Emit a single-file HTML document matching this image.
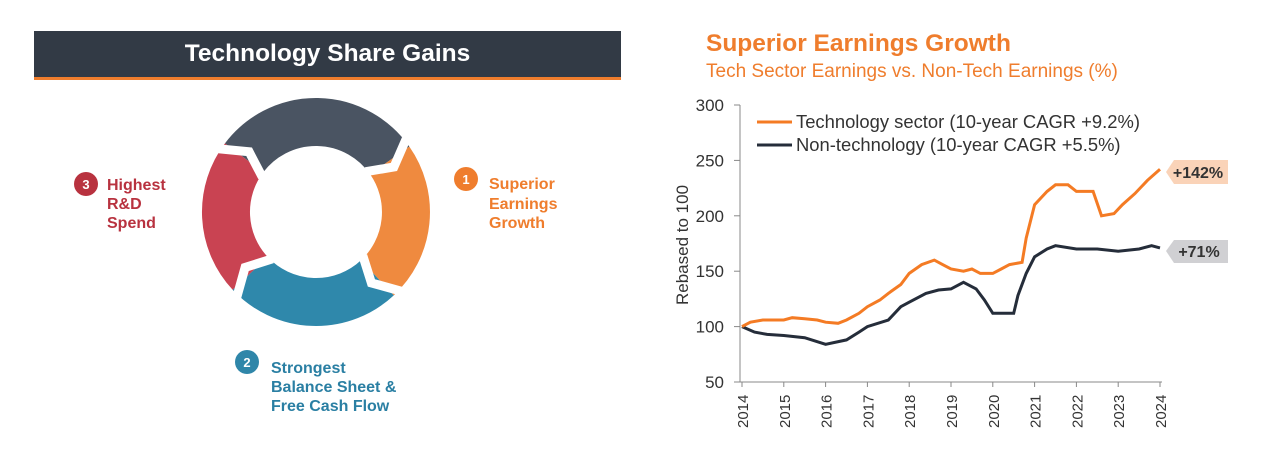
<!DOCTYPE html>
<html><head><meta charset="utf-8"><style>
body{margin:0;width:1281px;height:454px;background:#fff;font-family:"Liberation Sans",sans-serif;position:relative;overflow:hidden}
.a{position:absolute}
</style></head><body>
<div class="a" style="left:34px;top:31px;width:587px;height:46px;background:#323a45;color:#fff;font-size:24.5px;font-weight:bold;text-align:center;line-height:46px">Technology Share Gains</div>
<div class="a" style="left:34px;top:77px;width:587px;height:3px;background:#ef7d2d"></div>
<svg class="a" id="r" style="left:0;top:0" width="640" height="454" font-family="Liberation Sans, sans-serif"></svg>
<div class="a" style="left:706px;top:30px;color:#ef7d2d;font-size:24.5px;font-weight:bold">Superior Earnings Growth</div>
<div class="a" style="left:706px;top:61px;color:#ef7d2d;font-size:19px">Tech Sector Earnings vs. Non-Tech Earnings (%)</div>
<svg class="a" id="c" style="left:0;top:0" width="1281" height="454" font-family="Liberation Sans, sans-serif"></svg>
<script>
const cx=316,cy=212,R=90,W=48;
const pt=(a,r)=>[(cx+r*Math.cos(a*Math.PI/180)).toFixed(1),(cy+r*Math.sin(a*Math.PI/180)).toFixed(1)];
const arc=(a0,a1,col)=>{const p0=pt(a0,R),p1=pt(a1,R);const large=((a1-a0+360)%360)>180?1:0;return `<path d="M${p0} A${R},${R} 0 ${large} 1 ${p1}" fill="none" stroke="${col}" stroke-width="${W}"/>`;};
let r='';
r+=arc(217,325,'#4a5462');r+=arc(325,47,'#ef8a3f');r+=arc(47,137,'#2f88ab');r+=arc(137,217,'#c94352');
for(const a of [217,325,47,137]){r+=`<polyline points="${pt(a-4,R-W/2-2)} ${pt(a+5,R)} ${pt(a-4,R+W/2+2)}" fill="none" stroke="#fff" stroke-width="9"/>`;}
r+='<circle cx="86" cy="184" r="12" fill="#b8323f"/><text x="86" y="189" fill="#fff" font-size="13" font-weight="bold" text-anchor="middle">3</text>';
r+='<circle cx="466" cy="179" r="12" fill="#ef7d2d"/><text x="466" y="184" fill="#fff" font-size="13" font-weight="bold" text-anchor="middle">1</text>';
r+='<circle cx="247" cy="362" r="12" fill="#2f86a9"/><text x="247" y="367" fill="#fff" font-size="13" font-weight="bold" text-anchor="middle">2</text>';
r+='<g font-size="16" font-weight="bold"><text fill="#b8323f"><tspan x="107" y="190">Highest</tspan><tspan x="107" y="209">R&amp;D</tspan><tspan x="107" y="228">Spend</tspan></text>';
r+='<text fill="#ef7d2d"><tspan x="489" y="189">Superior</tspan><tspan x="489" y="209">Earnings</tspan><tspan x="489" y="228">Growth</tspan></text>';
r+='<text fill="#2a7fa3"><tspan x="271" y="373">Strongest</tspan><tspan x="271" y="392">Balance Sheet &amp;</tspan><tspan x="271" y="411">Free Cash Flow</tspan></text></g>';
document.getElementById('r').innerHTML=r;

const X=y=>742+(y-2014)*41.8, Y=v=>382-(v-50)*1.108;
let s='';
s+='<line x1="740" y1="105" x2="740" y2="382" stroke="#888"/>';
s+='<line x1="740" y1="382" x2="1162" y2="382" stroke="#888"/>';
for(let v=50;v<=300;v+=50){s+=`<line x1="734" y1="${Y(v)}" x2="740" y2="${Y(v)}" stroke="#888"/><text x="724" y="${Y(v)+6}" font-size="17" text-anchor="end" fill="#333">${v}</text>`;}
for(let y=2014;y<=2024;y++){s+=`<line x1="${X(y)}" y1="382" x2="${X(y)}" y2="387" stroke="#888"/><text transform="translate(${X(y)+6},428) rotate(-90)" font-size="15" fill="#333">${y}</text>`;}
s+=`<text transform="translate(688,245) rotate(-90)" font-size="17" text-anchor="middle" fill="#333">Rebased to 100</text>`;
const t=[[2014,100],[2014.2,104],[2014.5,106],[2015,106],[2015.2,108],[2015.5,107],[2015.8,106],[2016,104],[2016.3,103],[2016.5,106],[2016.8,112],[2017,118],[2017.3,124],[2017.5,130],[2017.8,138],[2018,148],[2018.3,156],[2018.6,160],[2018.8,156],[2019,152],[2019.3,150],[2019.5,152],[2019.7,148],[2020,148],[2020.2,152],[2020.4,156],[2020.7,158],[2020.8,180],[2021,210],[2021.3,222],[2021.5,228],[2021.8,228],[2022,222],[2022.4,222],[2022.6,200],[2022.9,202],[2023.1,210],[2023.4,220],[2023.7,232],[2024,242]];
const n=[[2014,100],[2014.3,95],[2014.6,93],[2015,92],[2015.5,90],[2016,84],[2016.5,88],[2016.8,95],[2017,100],[2017.5,106],[2017.8,118],[2018,122],[2018.4,130],[2018.7,133],[2019,134],[2019.3,140],[2019.6,134],[2019.8,124],[2020,112],[2020.5,112],[2020.6,128],[2020.8,148],[2021,163],[2021.3,170],[2021.5,173],[2022,170],[2022.5,170],[2023,168],[2023.5,170],[2023.8,173],[2024,171]];
const p=a=>a.map(d=>X(d[0]).toFixed(1)+','+Y(d[1]).toFixed(1)).join(' ');
s+=`<polyline points="${p(n)}" fill="none" stroke="#252d3a" stroke-width="3"/>`;
s+=`<polyline points="${p(t)}" fill="none" stroke="#f47b24" stroke-width="3"/>`;
s+='<line x1="757" y1="122" x2="792" y2="122" stroke="#f47b24" stroke-width="3"/><text x="796" y="128" font-size="18.4" fill="#333">Technology sector (10-year CAGR +9.2%)</text>';
s+='<line x1="757" y1="145" x2="792" y2="145" stroke="#252d3a" stroke-width="3"/><text x="796" y="151" font-size="18.4" fill="#333">Non-technology (10-year CAGR +5.5%)</text>';
s+='<polygon points="1166,172 1174,160 1228,160 1228,184 1174,184" fill="#fad3b8"/><text x="1198" y="178" font-size="16" font-weight="bold" text-anchor="middle" fill="#333">+142%</text>';
s+='<polygon points="1166,251 1174,240 1228,240 1228,263 1174,263" fill="#d0d0d3"/><text x="1199" y="257" font-size="16" font-weight="bold" text-anchor="middle" fill="#333">+71%</text>';
document.getElementById('c').innerHTML=s;
</script>
</body></html>
